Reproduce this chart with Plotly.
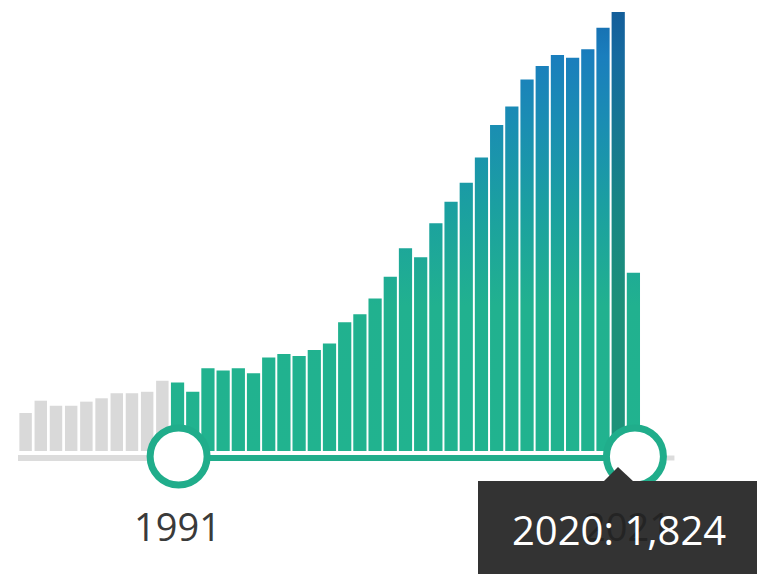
import plotly.graph_objects as go

# ---- data ----
years = list(range(1981, 2022))
values = [158, 209, 188, 188, 205, 219, 240, 240, 246, 292,
          285, 246, 344, 334, 344, 323, 388, 403, 395, 420,
          447, 535, 568, 634, 724, 842, 805, 946, 1036, 1115,
          1219, 1355, 1431, 1544, 1600, 1645, 1634, 1669, 1759, 1824,
          741]
range_start = 1991
range_end = 2021
hover_year = 2020
tooltip_text = "2020: 1,824"
start_label = "1991"
end_label = "2021"

# ---- styles ----
W = 757
H = 574
BAR_W = 0.87
GREY_W = 0.82
GREY = "#d9d9d9"
TEAL = "#20ad8b"
grad = [[0.0, "#21b38f"], [0.33, "#21b18f"], [0.55, "#1ba0a0"],
        [0.75, "#1a8db3"], [0.9, "#1a7ebd"], [1.0, "#166cae"]]
grad_dark = [[0.0, "#1d9279"], [0.33, "#1d9079"], [0.55, "#188684"],
             [0.75, "#177693"], [0.9, "#166a9f"], [1.0, "#135e9a"]]

BASE = 451
LEFT = 18
vmax = max(values)
px_per_unit = 439 / vmax
ymax = BASE / px_per_unit
ymin = -(H - BASE) / px_per_unit
px_per_year = 623 / len(years)
xmin = years[0] - 0.5 - LEFT / px_per_year
xmax = years[0] - 0.5 + (W - LEFT) / px_per_year


def poly(sel):
    xs, ys = [], []
    for y, v in sel:
        a, b = y - BAR_W / 2, y + BAR_W / 2
        xs += [a, a, b, b, a, None]
        ys += [0, v, v, 0, 0, None]
    return xs, ys


fig = go.Figure()

grey_sel = [(y, v) for y, v in zip(years, values) if y < range_start]
fig.add_trace(go.Bar(x=[y for y, _ in grey_sel], y=[v for _, v in grey_sel],
                     width=GREY_W, marker=dict(color=GREY, line=dict(width=0)),
                     hoverinfo="skip"))

sel = [(y, v) for y, v in zip(years, values) if range_start <= y <= range_end and y != hover_year]
xs, ys = poly(sel)
fig.add_trace(go.Scatter(x=xs, y=ys, mode="lines", fill="toself",
                         line=dict(width=0, color="rgba(0,0,0,0)"),
                         fillgradient=dict(type="vertical", colorscale=grad, start=0, stop=vmax),
                         hoverinfo="skip"))
hsel = [(y, v) for y, v in zip(years, values) if y == hover_year]
xs, ys = poly(hsel)
fig.add_trace(go.Scatter(x=xs, y=ys, mode="lines", fill="toself",
                         line=dict(width=0, color="rgba(0,0,0,0)"),
                         fillgradient=dict(type="vertical", colorscale=grad_dark, start=0, stop=vmax),
                         hoverinfo="skip"))

track_y = -7 / px_per_unit
handle_y = -5.5 / px_per_unit
shapes = [
    dict(type="line", xref="x", yref="y", x0=years[0] - 0.5, x1=range_start, y0=track_y, y1=track_y,
         line=dict(color="#dcdcdc", width=6)),
    dict(type="line", xref="x", yref="y", x0=range_end + 1.5, x1=range_end + 2.7, y0=track_y, y1=track_y,
         line=dict(color="#dcdcdc", width=5)),
    dict(type="line", xref="x", yref="y", x0=range_start, x1=range_end, y0=track_y, y1=track_y,
         line=dict(color=TEAL, width=6)),
]
for hx in (range_start + 0.07, range_end + 0.1):
    shapes.append(dict(type="circle", xref="x", yref="y", xsizemode="pixel", ysizemode="pixel",
                       xanchor=hx, yanchor=handle_y, x0=-28.5, x1=28.5, y0=-28.5, y1=28.5,
                       line=dict(color=TEAL, width=7), fillcolor="white"))


# tooltip box + arrow (paper coords; margins are zero)
def px(x):
    return x / W


def py(y):
    return 1 - y / H


shapes.append(dict(type="rect", xref="paper", yref="paper", x0=px(478), x1=px(W + 20),
                   y0=py(H + 20), y1=py(481), line=dict(width=0), fillcolor="#333333"))
shapes.append(dict(type="path", xref="paper", yref="paper",
                   path=f"M {px(603)} {py(482)} L {px(618)} {py(467)} L {px(634)} {py(482)} Z",
                   line=dict(width=0), fillcolor="#333333"))

FONT = "Open Sans, Noto Sans, sans-serif"
label_y = -(526 - BASE) / px_per_unit
annotations = [
    dict(x=range_start, y=label_y, xref="x", yref="y", text=start_label, showarrow=False,
         xanchor="center", yanchor="middle", font=dict(family=FONT, size=38, color="#3a3a3a")),
    dict(x=range_end - 0.4, y=label_y, xref="x", yref="y", text=end_label, showarrow=False,
         xanchor="center", yanchor="middle", font=dict(family=FONT, size=38, color="#242424")),
    dict(x=px(619), y=py(529), xref="paper", yref="paper", text=tooltip_text, showarrow=False,
         xanchor="center", yanchor="middle", font=dict(family=FONT, size=40, color="white")),
]

fig.update_layout(
    width=W, height=H, margin=dict(l=0, r=0, t=0, b=0),
    paper_bgcolor="white", plot_bgcolor="white",
    showlegend=False, hovermode=False,
    xaxis=dict(range=[xmin, xmax], visible=False, fixedrange=True),
    yaxis=dict(range=[ymin, ymax], visible=False, fixedrange=True),
    shapes=shapes, annotations=annotations,
)

fig.write_html("out.html",
               config={"displayModeBar": False, "staticPlot": True},
               post_script="document.body.style.margin='0';document.body.style.overflow='hidden';")
